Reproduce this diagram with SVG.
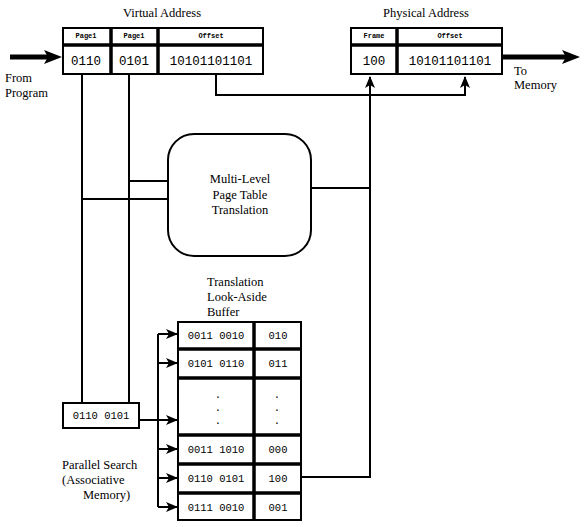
<svg xmlns="http://www.w3.org/2000/svg" width="585" height="527" viewBox="0 0 585 527">
<defs>
<style>
.bx{fill:#fff;stroke:#000;stroke-width:2}
.sep{stroke:#000;stroke-width:3.5;fill:none}
.ln{stroke:#000;stroke-width:2;fill:none}
.thick{stroke:#000;stroke-width:5;fill:none}
.lbl{font-family:"Liberation Serif","Times New Roman",serif;font-size:12.5px;fill:#000}
.hd{font-family:"Liberation Mono","Courier New",monospace;font-size:7px;font-weight:bold;fill:#000}
.val{font-family:"Liberation Mono","Courier New",monospace;font-size:12.5px;fill:#000}
.tv{font-family:"Liberation Mono","Courier New",monospace;font-size:10.5px;fill:#000}
</style>
<marker id="ah" viewBox="0 0 12 10" refX="11" refY="5" markerWidth="12" markerHeight="10" markerUnits="userSpaceOnUse" orient="auto">
<path d="M0,0 L12,5 L0,10 L3,5 Z" fill="#000"/>
</marker>
<marker id="big" viewBox="0 0 16 14" refX="15" refY="7" markerWidth="16" markerHeight="14" markerUnits="userSpaceOnUse" orient="auto">
<path d="M0,0 L16,7 L0,14 L4,7 Z" fill="#000"/>
</marker>
</defs>

<g id="connectors">
<line class="thick" x1="10" y1="57" x2="50" y2="57"/>
<path d="M44,50 L62,57 L44,64 L48,57 Z" fill="#000"/>
<line class="thick" x1="503" y1="57" x2="566" y2="57"/>
<path d="M562,50 L580,57 L562,64 L566,57 Z" fill="#000"/>
<line class="ln" x1="82" y1="75" x2="82" y2="403"/>
<line class="ln" x1="129" y1="75" x2="129" y2="403"/>
<line class="ln" x1="129" y1="181" x2="167" y2="181"/>
<line class="ln" x1="82" y1="199" x2="167" y2="199"/>
<path class="ln" d="M216,75 V95 H465 V77" marker-end="url(#ah)"/>
<path class="ln" d="M301,477 H370 V77" marker-end="url(#ah)"/>
<line class="ln" x1="311" y1="188" x2="370" y2="188"/>
<line class="ln" x1="139" y1="420" x2="158" y2="420"/>
<line class="ln" x1="158" y1="334" x2="158" y2="507"/>
<line class="ln" x1="158" y1="334" x2="177" y2="334" marker-end="url(#ah)"/>
<line class="ln" x1="158" y1="363" x2="177" y2="363" marker-end="url(#ah)"/>
<line class="ln" x1="158" y1="420" x2="177" y2="420" marker-end="url(#ah)"/>
<line class="ln" x1="158" y1="449" x2="177" y2="449" marker-end="url(#ah)"/>
<line class="ln" x1="158" y1="478" x2="177" y2="478" marker-end="url(#ah)"/>
<line class="ln" x1="158" y1="507" x2="177" y2="507" marker-end="url(#ah)"/>
</g>

<g id="virtual-address">
<text class="lbl" x="162" y="17" text-anchor="middle">Virtual Address</text>
<rect class="bx" x="63" y="28" width="200" height="46"/>
<line class="sep" x1="63" y1="45" x2="263" y2="45"/>
<line class="sep" x1="111" y1="28" x2="111" y2="74"/>
<line class="sep" x1="158" y1="28" x2="158" y2="74"/>
<text class="hd" x="86" y="38" text-anchor="middle">Page1</text>
<text class="hd" x="134" y="38" text-anchor="middle">Page1</text>
<text class="hd" x="211" y="38" text-anchor="middle">Offset</text>
<text class="val" x="86" y="65" text-anchor="middle">0110</text>
<text class="val" x="134" y="65" text-anchor="middle">0101</text>
<text class="val" x="211" y="65" text-anchor="middle">10101101101</text>
</g>

<g id="physical-address">
<text class="lbl" x="426" y="17" text-anchor="middle">Physical Address</text>
<rect class="bx" x="351" y="28" width="151" height="46"/>
<line class="sep" x1="351" y1="45" x2="502" y2="45"/>
<line class="sep" x1="397" y1="28" x2="397" y2="74"/>
<text class="hd" x="374" y="38" text-anchor="middle">Frame</text>
<text class="hd" x="450" y="38" text-anchor="middle">Offset</text>
<text class="val" x="374" y="65" text-anchor="middle">100</text>
<text class="val" x="450" y="65" text-anchor="middle">10101101101</text>
</g>

<g id="from-program">
<text class="lbl" x="5" y="82">From</text>
<text class="lbl" x="5" y="97">Program</text>
</g>

<g id="to-memory">
<text class="lbl" x="514" y="75">To</text>
<text class="lbl" x="514" y="89">Memory</text>
</g>

<g id="multi-level">
<rect class="bx" x="168" y="134" width="143" height="122" rx="26" ry="26"/>
<text class="lbl" x="240" y="183" text-anchor="middle">Multi-Level</text>
<text class="lbl" x="240" y="199" text-anchor="middle">Page Table</text>
<text class="lbl" x="240" y="214" text-anchor="middle">Translation</text>
</g>

<g id="search-key">
<rect class="bx" x="63" y="403" width="76" height="25"/>
<text class="tv" x="101" y="419" text-anchor="middle">0110 0101</text>
</g>

<g id="parallel-search">
<text class="lbl" x="62" y="469">Parallel Search</text>
<text class="lbl" x="62" y="484">(Associative</text>
<text class="lbl" x="83" y="499">Memory)</text>
</g>

<g id="tlb">
<text class="lbl" x="207" y="286">Translation</text>
<text class="lbl" x="207" y="301">Look-Aside</text>
<text class="lbl" x="207" y="316">Buffer</text>
<rect class="bx" x="178" y="322" width="123" height="198"/>
<line class="sep" x1="254" y1="322" x2="254" y2="520"/>
<line class="sep" x1="178" y1="349" x2="301" y2="349"/>
<line class="sep" x1="178" y1="378" x2="301" y2="378"/>
<line class="sep" x1="178" y1="435" x2="301" y2="435"/>
<line class="sep" x1="178" y1="464" x2="301" y2="464"/>
<line class="sep" x1="178" y1="493" x2="301" y2="493"/>
<text class="tv" x="216" y="339" text-anchor="middle">0011 0010</text>
<text class="tv" x="278" y="339" text-anchor="middle">010</text>
<text class="tv" x="216" y="367" text-anchor="middle">0101 0110</text>
<text class="tv" x="278" y="367" text-anchor="middle">011</text>
<text class="tv" x="218" y="398" text-anchor="middle">.</text>
<text class="tv" x="218" y="411" text-anchor="middle">.</text>
<text class="tv" x="218" y="424" text-anchor="middle">.</text>
<text class="tv" x="277" y="398" text-anchor="middle">.</text>
<text class="tv" x="277" y="411" text-anchor="middle">.</text>
<text class="tv" x="277" y="424" text-anchor="middle">.</text>
<text class="tv" x="216" y="453" text-anchor="middle">0011 1010</text>
<text class="tv" x="278" y="453" text-anchor="middle">000</text>
<text class="tv" x="216" y="482" text-anchor="middle">0110 0101</text>
<text class="tv" x="278" y="482" text-anchor="middle">100</text>
<text class="tv" x="216" y="511" text-anchor="middle">0111 0010</text>
<text class="tv" x="278" y="511" text-anchor="middle">001</text>
</g>
</svg>
